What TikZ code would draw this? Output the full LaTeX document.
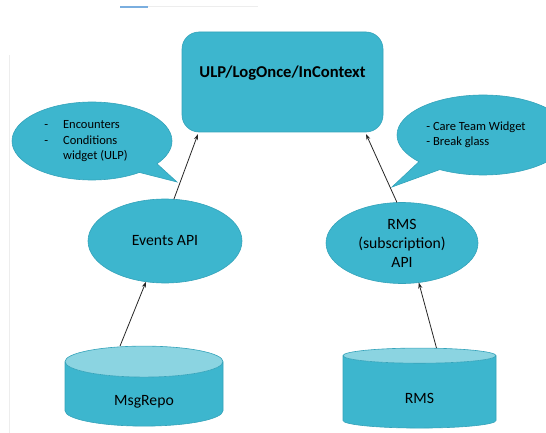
\documentclass[tikz,border=0pt]{standalone}
\usepackage{fontspec}
\setmainfont{Carlito}
\usetikzlibrary{shapes.geometric,shapes.callouts,arrows.meta}
\definecolor{boxfill}{HTML}{3DB6CE}
\definecolor{boxline}{HTML}{34A3BA}
\definecolor{capfill}{HTML}{8BD4E1}
\definecolor{faint}{HTML}{EDEDED}
\definecolor{barblue}{HTML}{7AAEDF}

\begin{document}
\begin{tikzpicture}[x=1pt,y=-1pt,
  blob/.style={ellipse,fill=boxfill,draw=boxline,line width=0.6pt,inner sep=0pt,outer sep=0pt,
    align=center,font=\fontsize{15.7}{19}\selectfont},
  bubble/.style={ellipse callout,fill=boxfill,draw=boxline,line width=0.6pt,inner sep=0pt,
    outer sep=0pt,callout pointer arc=18,font=\fontsize{12.5}{15}\selectfont},
  store/.style={cylinder,shape border rotate=90,aspect=0.52,cylinder uses custom fill,
    cylinder body fill=boxfill,cylinder end fill=capfill,draw=boxline,line width=0.6pt,
    inner sep=0pt,outer sep=0pt,text height=26pt,text depth=4pt,
    font=\fontsize{15.7}{19}\selectfont},
  link/.style={draw=black!85,line width=0.8pt,-{Stealth[length=6pt,width=4pt]}}]
  \useasboundingbox (0,0) rectangle (546,433);
  \clip (0,0) rectangle (546,433);
  % stray marks of the slide
  \draw[faint,line width=1pt] (120,7) -- (258,7);
  \draw[barblue,line width=1.2pt] (120,7) -- (148,7);
  \draw[faint,line width=0.8pt] (9,55) -- (9,433);
  % shapes
  \node[rectangle,rounded corners=17pt,fill=boxfill,draw=boxline,line width=0.6pt,
    minimum width=201pt,minimum height=100pt,inner sep=0pt,outer sep=0pt,
    text height=12pt,text depth=21pt,font=\fontsize{16.6}{19}\selectfont\bfseries]
    (ulp) at (282.5,82) {ULP/LogOnce/InContext};
  \node[bubble,minimum width=160pt,minimum height=78pt,callout absolute pointer={(177,182)}]
    (leftnote) at (92,141)
    {\begin{tabular}{@{}l@{\hspace{15pt}}l@{\hspace{12pt}}}
      - & Encounters\\
      - & Conditions\\
        & widget (ULP)
     \end{tabular}};
  \node[bubble,minimum width=172pt,minimum height=80pt,callout absolute pointer={(392,187)}]
    (rightnote) at (483,135)
    {\begin{tabular}{@{}l@{\hspace{14pt}}}
      - Care Team Widget\\
      - Break glass
     \end{tabular}};
  \node[blob,minimum width=154pt,minimum height=84pt] (events) at (165,241) {Events API};
  \node[blob,minimum width=152pt,minimum height=81pt] (rmsapi) at (402,243) {RMS\\(subscription)\\API};
  \node[store,minimum width=158pt,minimum height=80pt] (msgrepo) at (144,394) {MsgRepo};
  \node[store,minimum width=153pt,minimum height=80pt] (rms) at (419.5,392) {RMS};
  % arrows
  \draw[link] (events.78) -- ([xshift=16pt,yshift=-2pt]ulp.south west); % events -- ulp
  \draw[link] ([xshift=-24pt]msgrepo.north) -- (events.245); % msgrepo -- events
  \draw[link] (rmsapi.97) -- ([xshift=-17pt,yshift=-2pt]ulp.south east); % rmsapi -- ulp
  \draw[link] ([xshift=17pt]rms.north) -- (rmsapi.293); % rms -- rmsapi
\end{tikzpicture}
\end{document}
